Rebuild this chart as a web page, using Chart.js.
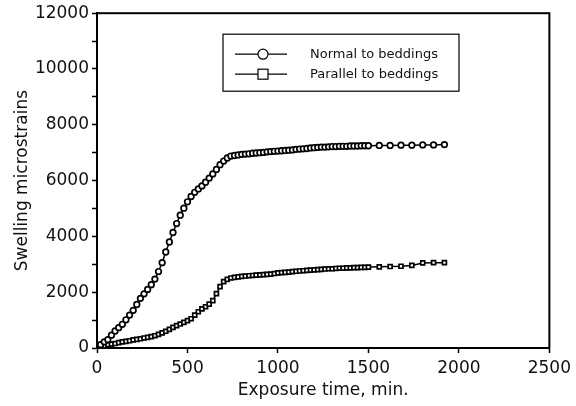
<!DOCTYPE html>
<html>
<head>
<meta charset="utf-8">
<script src="https://cdn.jsdelivr.net/npm/chart.js@4/dist/chart.umd.min.js"></script>
<style>
  html, body { margin: 0; padding: 0; background: #fff; }
  #wrap { width: 576px; height: 406px; }
</style>
</head>
<body>
<div id="wrap"><canvas id="myChart" width="576" height="406"></canvas></div>
<script>
// exposure time (min.)
var times = [
    0, 20, 40, 60, 80, 100, 120, 140, 160, 180,
    200, 220, 240, 260, 280, 300, 320, 340, 360, 380,
    400, 420, 440, 460, 480, 500, 520, 540, 560, 580,
    600, 620, 640, 660, 680, 700, 720, 740, 760, 780,
    800, 820, 840, 860, 880, 900, 920, 940, 960, 980,
    1000, 1020, 1040, 1060, 1080, 1100, 1120, 1140, 1160, 1180,
    1200, 1220, 1240, 1260, 1280, 1300, 1320, 1340, 1360, 1380,
    1400, 1420, 1440, 1460, 1480, 1500,
    1560, 1620, 1680, 1740, 1800, 1860, 1920
];

// swelling microstrains, normal to beddings
var normalVals = [
    0, 120, 220, 300, 460, 610, 730, 850, 1010, 1180,
    1350, 1560, 1780, 1940, 2100, 2270, 2470, 2740, 3060, 3440,
    3800, 4140, 4460, 4760, 5010, 5240, 5430, 5580, 5700, 5810,
    5940, 6090, 6240, 6400, 6570, 6700, 6810, 6880, 6900, 6920,
    6940, 6950, 6960, 6980, 6990, 7000, 7010, 7030, 7040, 7050,
    7060, 7070, 7080, 7090, 7100, 7120, 7130, 7140, 7150, 7170,
    7180, 7190, 7200, 7200, 7210, 7220, 7220, 7230, 7230, 7230,
    7240, 7240, 7240, 7250, 7250, 7250,
    7260, 7260, 7270, 7270, 7280, 7280, 7290
];

// swelling microstrains, parallel to beddings
var parallelVals = [
    0, 40, 80, 120, 140, 160, 190, 220, 240, 260,
    290, 310, 330, 360, 380, 410, 440, 490, 540, 600,
    670, 740, 800, 860, 920, 980, 1050, 1180, 1300, 1400,
    1480, 1570, 1700, 1950, 2200, 2380, 2460, 2510, 2530, 2550,
    2570, 2580, 2590, 2600, 2610, 2620, 2630, 2640, 2650, 2670,
    2690, 2700, 2710, 2720, 2740, 2750, 2760, 2770, 2780, 2790,
    2800, 2810, 2820, 2830, 2840, 2840, 2850, 2860, 2860, 2870,
    2870, 2880, 2880, 2890, 2890, 2900,
    2910, 2920, 2930, 2960, 3050, 3060, 3060
];

var seriesLabels = ['Normal to beddings', 'Parallel to beddings'];
var yTickLabels = [0, 2000, 4000, 6000, 8000, 10000, 12000];
var xTickLabels = [0, 500, 1000, 1500, 2000, 2500];

function toPoints(xs, ys) {
    var pts = [];
    for (var i = 0; i < xs.length; i++) {
        pts.push({ x: xs[i], y: ys[i] });
    }
    return pts;
}

var FONT = "'DejaVu Sans', 'Liberation Sans', Arial, sans-serif";

// frame round the plot area + legend box inside it
var framePlugin = {
    id: 'frame',
    afterDatasetsDraw: function(chart) {
        var ctx = chart.ctx;
        var a = chart.chartArea;
        ctx.save();
        ctx.strokeStyle = '#000';
        ctx.lineWidth = 2;
        ctx.strokeRect(a.left, a.top, a.right - a.left, a.bottom - a.top);

        // legend
        var bx = a.left + 126, by = a.top + 21, bw = 236, bh = 57;
        ctx.fillStyle = '#fff';
        ctx.fillRect(bx, by, bw, bh);
        ctx.lineWidth = 1.2;
        ctx.strokeRect(bx, by, bw, bh);
        ctx.font = '13px ' + FONT;
        ctx.textBaseline = 'middle';
        var rows = [by + 20, by + 40];
        chart.data.datasets.forEach(function(ds, i) {
            var y = rows[i];
            ctx.strokeStyle = '#000';
            ctx.lineWidth = 1.2;
            ctx.beginPath();
            ctx.moveTo(bx + 12, y);
            ctx.lineTo(bx + 64, y);
            ctx.stroke();
            ctx.fillStyle = '#fff';
            if (ds.pointStyle === 'rect') {
                ctx.fillRect(bx + 35, y - 5, 10, 10);
                ctx.strokeRect(bx + 35, y - 5, 10, 10);
            } else {
                ctx.beginPath();
                ctx.arc(bx + 40, y, 5, 0, Math.PI * 2);
                ctx.fill();
                ctx.stroke();
            }
            ctx.fillStyle = '#111';
            ctx.fillText(ds.label, bx + 87, y);
        });
        ctx.restore();
    }
};

var ctx = document.getElementById('myChart');
new Chart(ctx, {
    type: 'scatter',
    data: {
        datasets: [
            {
                label: seriesLabels[0],
                data: toPoints(times, normalVals),
                showLine: true,
                borderColor: '#000',
                borderWidth: 1.5,
                backgroundColor: '#fff',
                pointStyle: 'circle',
                pointRadius: 2.8,
                pointBorderWidth: 1.7,
                pointBorderColor: '#000',
                pointBackgroundColor: '#fff'
            },
            {
                label: seriesLabels[1],
                data: toPoints(times, parallelVals),
                showLine: true,
                borderColor: '#000',
                borderWidth: 1.5,
                backgroundColor: '#fff',
                pointStyle: 'rect',
                pointRadius: 2.8,
                pointBorderWidth: 1.7,
                pointBorderColor: '#000',
                pointBackgroundColor: '#fff'
            }
        ]
    },
    options: {
        responsive: false,
        animation: false,
        layout: { padding: { top: 12, right: 25, left: 0, bottom: 0 } },
        plugins: {
            legend: { display: false },
            tooltip: { enabled: false }
        },
        scales: {
            x: {
                type: 'linear',
                min: 0,
                max: 2500,
                afterFit: function(scale) { scale.height = 58; },
                border: { display: true, color: '#000', width: 2 },
                grid: { drawOnChartArea: false, drawTicks: true, tickLength: 5, tickColor: '#000', tickWidth: 1.5 },
                ticks: {
                    stepSize: 250,
                    padding: 5,
                    color: '#111',
                    maxRotation: 0,
                    font: { family: FONT, size: 17 },
                    callback: function(v) { return xTickLabels.indexOf(v) >= 0 ? String(v) : ''; }
                },
                title: {
                    display: true,
                    text: 'Exposure time, min.',
                    color: '#111',
                    font: { family: FONT, size: 17 },
                    padding: { top: 0, bottom: 5 }
                }
            },
            y: {
                type: 'linear',
                min: 0,
                max: 12000,
                afterFit: function(scale) { scale.width = 97; },
                border: { display: true, color: '#000', width: 2 },
                grid: { drawOnChartArea: false, drawTicks: true, tickLength: 5, tickColor: '#000', tickWidth: 1.5 },
                ticks: {
                    stepSize: 1000,
                    padding: 3,
                    color: '#111',
                    font: { family: FONT, size: 17 },
                    callback: function(v) { return yTickLabels.indexOf(v) >= 0 ? String(v) : ''; }
                },
                title: {
                    display: true,
                    text: 'Swelling microstrains',
                    color: '#111',
                    font: { family: FONT, size: 17 },
                    padding: { top: 12, bottom: 0 }
                }
            }
        }
    },
    plugins: [framePlugin]
});
</script>
</body>
</html>
